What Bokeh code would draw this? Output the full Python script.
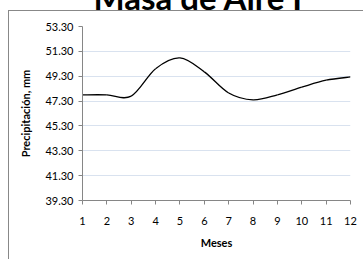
from bokeh.plotting import figure
from bokeh.models import FixedTicker, Range1d, ColumnDataSource, NumeralTickFormatter
from bokeh.embed import file_html
from bokeh.resources import INLINE

months = [1, 2, 3, 4, 5, 6, 7, 8, 9, 10, 11, 12]
precip = [47.8, 47.8, 47.7, 49.9, 50.77, 49.65, 47.95, 47.4, 47.8, 48.42, 48.98, 49.24]
y_ticks = [39.3, 41.3, 43.3, 45.3, 47.3, 49.3, 51.3, 53.3]
x_ticks = months
title_text = "Masa de Aire I"
x_label = "Meses"
y_label = "Precipitación, mm"

FONT = "Lato"
SHIFT = 36  # canvas is pulled up so that only the foot of the title shows

p = figure(width=363, height=259 + SHIFT, output_backend="svg", toolbar_location=None,
           x_range=Range1d(1, 12), y_range=Range1d(39.3, 53.3),
           min_border_left=82, min_border_right=13, min_border_top=25 + SHIFT,
           min_border_bottom=59)
p.styles = {
    "margin-top": f"-{SHIFT}px",
    "background": (f"linear-gradient(#888888,#888888) 8px {10 + SHIFT}px / 1px 100% no-repeat, "
                   f"linear-gradient(#888888,#888888) 8px {10 + SHIFT}px / 100% 1px no-repeat"),
}
p.outline_line_color = None
p.border_fill_color = None
p.background_fill_color = "white"

p.title.text = title_text
p.title.text_font = FONT
p.title.text_font_size = "33px"
p.title.text_font_style = "bold"
p.title.text_color = "black"
p.title.align = "left"
p.title.offset = 11
p.title.standoff = 20

# smoothed line (Excel-style smoothing: cubic Bezier segments through the data)
n = len(months)
def pt(i):
    i = max(0, min(n - 1, i))
    return months[i], precip[i]
x0, y0, x1, y1, cx0, cy0, cx1, cy1 = [], [], [], [], [], [], [], []
for i in range(n - 1):
    pa, pb, pc, pd = pt(i - 1), pt(i), pt(i + 1), pt(i + 2)
    x0.append(pb[0]); y0.append(pb[1]); x1.append(pc[0]); y1.append(pc[1])
    cx0.append(pb[0] + (pc[0] - pa[0]) / 6); cy0.append(pb[1] + (pc[1] - pa[1]) / 6)
    cx1.append(pc[0] - (pd[0] - pb[0]) / 6); cy1.append(pc[1] - (pd[1] - pb[1]) / 6)
src = ColumnDataSource(dict(x0=x0, y0=y0, x1=x1, y1=y1, cx0=cx0, cy0=cy0, cx1=cx1, cy1=cy1))
p.bezier(x0="x0", y0="y0", x1="x1", y1="y1", cx0="cx0", cy0="cy0", cx1="cx1", cy1="cy1",
         source=src, line_color="black", line_width=1.3)

for ax in (p.xaxis[0], p.yaxis[0]):
    ax.axis_line_color = "#868686"
    ax.major_tick_line_color = "#868686"
    ax.major_tick_out = 4
    ax.major_tick_in = 0
    ax.minor_tick_line_color = None
    ax.major_label_text_font = FONT
    ax.major_label_text_font_size = "11px"
    ax.major_label_text_color = "#000000"
    ax.axis_label_text_font = FONT
    ax.axis_label_text_font_size = "11px"
    ax.axis_label_text_font_style = "bold"
    ax.axis_label_text_color = "#000000"

p.xaxis.ticker = FixedTicker(ticks=x_ticks)
p.yaxis.ticker = FixedTicker(ticks=y_ticks)
p.yaxis.formatter = NumeralTickFormatter(format="0.00")
p.xaxis.axis_label = x_label
p.yaxis.axis_label = y_label
p.xaxis.major_label_standoff = 12
p.yaxis.major_label_standoff = 5
p.xaxis.axis_label_standoff = 8
p.yaxis.axis_label_standoff = 10

p.xgrid.grid_line_color = None
p.ygrid.grid_line_color = "#D9E2EF"
p.ygrid.grid_line_width = 1

open("out.html", "w").write(file_html(p, INLINE))
